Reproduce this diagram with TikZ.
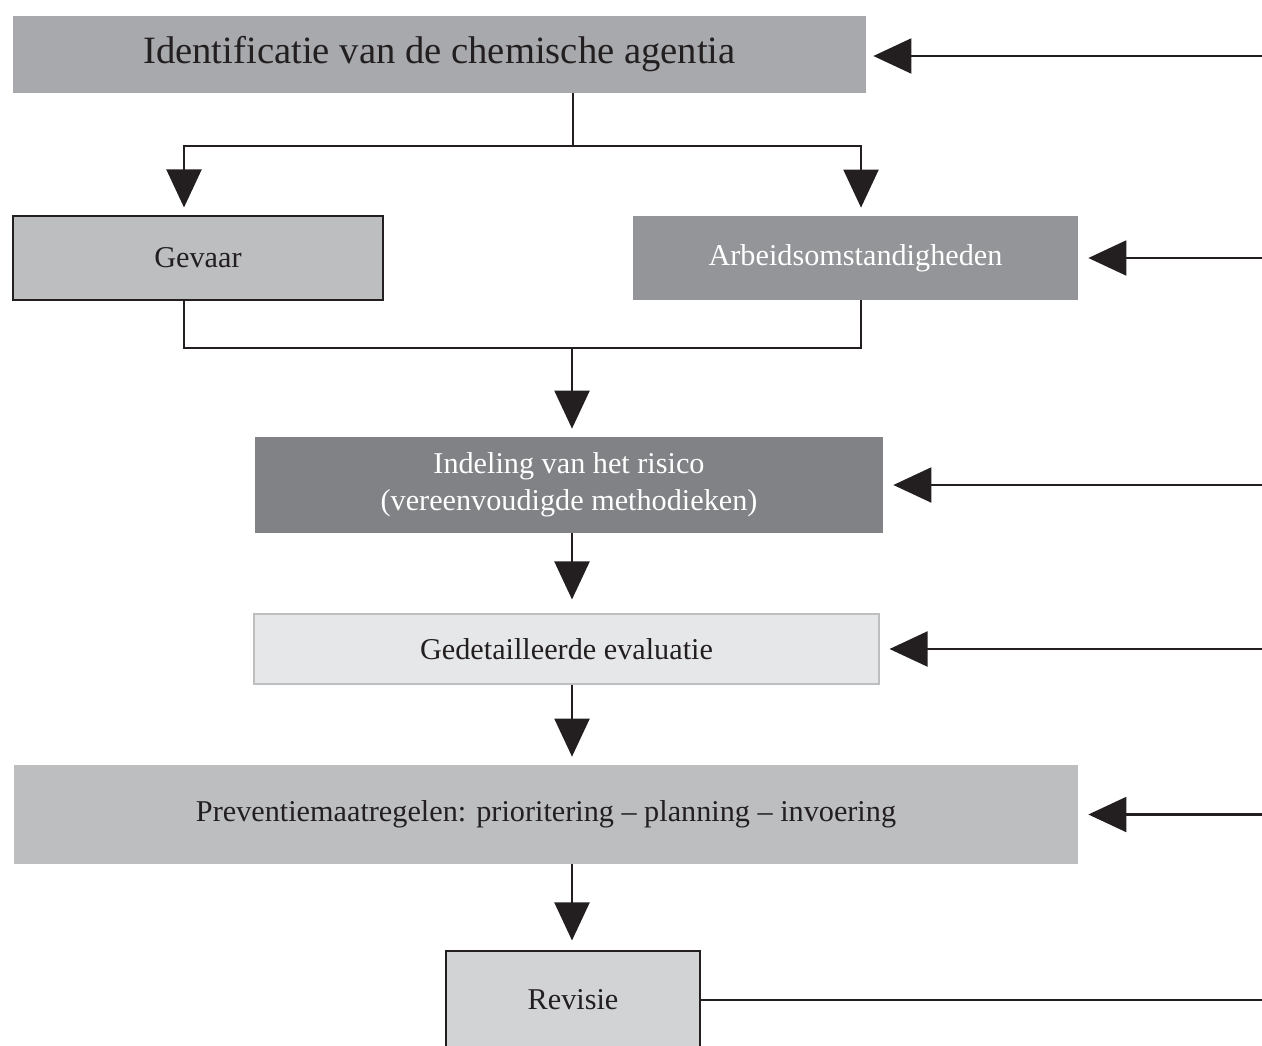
\documentclass[tikz,border=0pt]{standalone}
\usepackage{fontspec}
\setmainfont{Liberation Serif}
\usepackage{xcolor}
\definecolor{inkdark}{HTML}{231F20}
\definecolor{greytitle}{HTML}{A7A9AC}
\definecolor{greymid}{HTML}{BCBEC0}
\definecolor{greydark}{HTML}{939598}
\definecolor{greydeep}{HTML}{808285}
\definecolor{greypale}{HTML}{E6E7E8}
\definecolor{greysoft}{HTML}{D1D3D4}
\usetikzlibrary{arrows.meta,calc}
\tikzset{
  stage/.style    = {inner sep=0pt,align=center,text=inkdark,
                     font=\fontsize{17.2}{21}\selectfont},
  framed/.style   = {stage,draw=inkdark,line width=0.6pt},
  darkstage/.style= {stage,text=white},
  flowline/.style = {draw=inkdark,line width=1.2pt},
  flowarr/.style  = {flowline,-{Triangle[length=7.6mm,width=7mm]},
                     shorten >=1.6mm},
}
\begin{document}
\begin{tikzpicture}[x=0.2mm,y=-0.2mm]
  \useasboundingbox (0,0) rectangle (1262,1045);

  % Stages
  \node[stage,fill=greytitle,minimum width=170.6mm,minimum height=15.4mm,
        font=\fontsize{22}{26}\selectfont] (ident) at (439.5,54.5)
        {Identificatie van de chemische agentia};
  \node[framed,fill=greymid,minimum width=74mm,minimum height=16.8mm]
        (gevaar) at (198,258) {Gevaar};
  \node[darkstage,fill=greydark,minimum width=89mm,minimum height=16.8mm]
        (arbeid) at (855.5,258) {Arbeidsomstandigheden};
  \node[darkstage,fill=greydeep,minimum width=125.6mm,minimum height=19.2mm]
        (indeling) at (569,485)
        {Indeling van het risico\\(vereenvoudigde methodieken)};
  \node[stage,fill=greypale,draw=greymid,line width=0.6pt,
        minimum width=125mm,minimum height=14mm] (gedet) at (566.5,649)
        {Gedetailleerde evaluatie};
  \node[stage,fill=greymid,minimum width=212.8mm,minimum height=19.8mm]
        (prevent) at (546,814.5)
        {Preventiemaatregelen: prioritering -- planning -- invoering};
  \node[framed,fill=greysoft,minimum width=50.8mm,minimum height=19.6mm]
        (revisie) at (573,1000) {Revisie};

  % Branch and merge points
  \coordinate (split) at (573,146);
  \coordinate (merge) at (572,348);
  \coordinate (gv) at (184,0);
  \coordinate (av) at (861,0);
  \coordinate (rim) at (1262,0);

  % Identification -> hazard / working conditions
  \draw[flowline] (ident.south -| split) -- (split);
  \draw[flowarr] (split) -| (gv |- gevaar.north);
  \draw[flowarr] (split) -| (av |- arbeid.north);

  % Merge into risk classification
  \draw[flowline] (gv |- gevaar.south) |- (merge) -| (av |- arbeid.south);
  \draw[flowarr] (merge) -- (merge |- indeling.north);

  % Main chain
  \draw[flowarr,shorten >=2.8mm] (indeling.south -| merge) -- (gedet.north -| merge);
  \draw[flowarr] (gedet.south -| merge) -- (prevent.north -| merge);
  \draw[flowarr,shorten >=2mm] (prevent.south -| merge) -- (revisie.north -| merge);

  % Feedback from the right
  \draw[flowarr,shorten >=1.4mm] (rim |- 0,56) -- (ident.east |- 0,56);
  \foreach \n in {arbeid,indeling,gedet,prevent}
    \draw[flowarr,shorten >=2mm] (rim |- \n.east) -- (\n.east);
  \draw[flowline] (revisie.east) -- (rim |- revisie.east);
\end{tikzpicture}
\end{document}
